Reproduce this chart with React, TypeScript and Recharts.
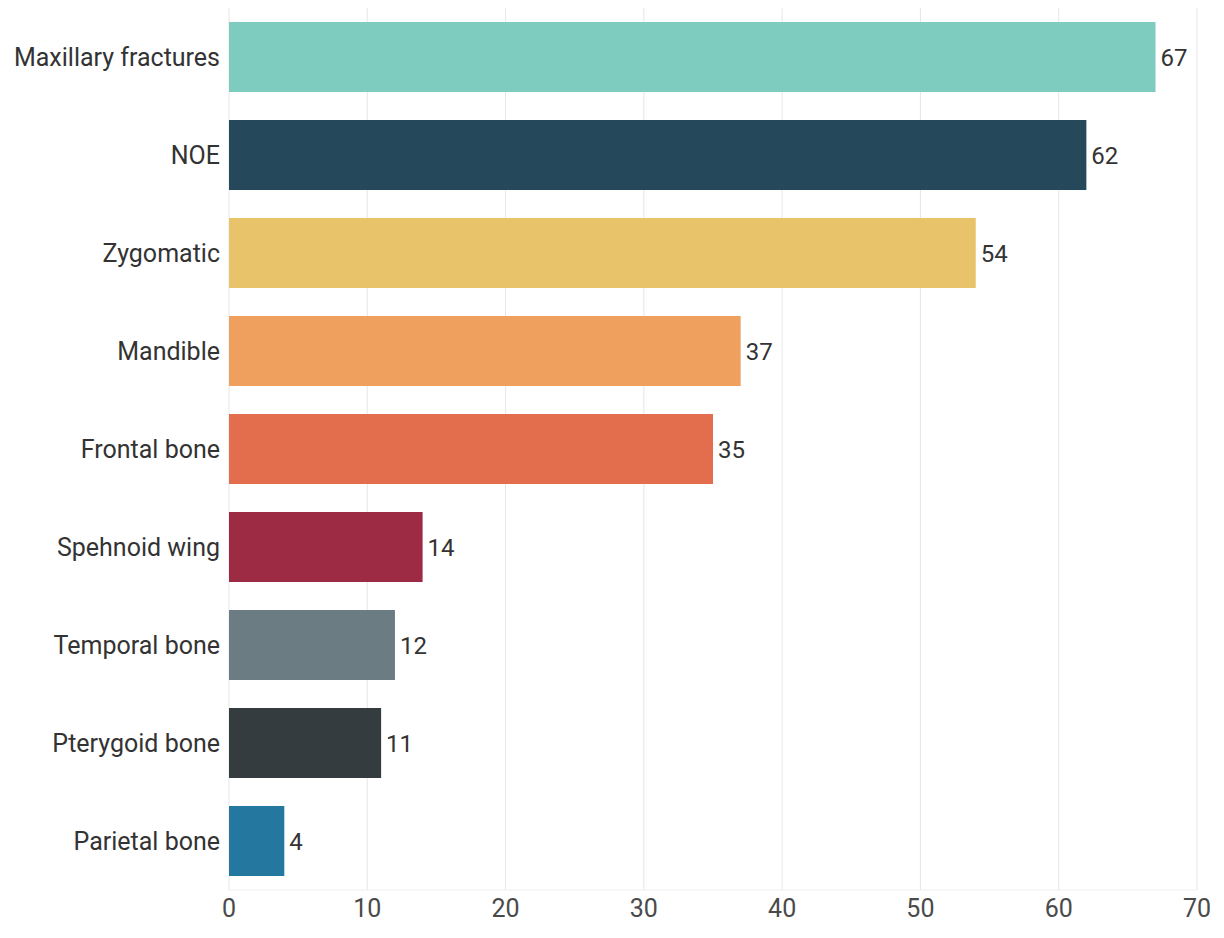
import React from 'react';
import { BarChart, Bar, XAxis, YAxis, CartesianGrid, Cell, LabelList } from 'recharts';

const categories = [
  'Maxillary fractures',
  'NOE',
  'Zygomatic',
  'Mandible',
  'Frontal bone',
  'Spehnoid wing',
  'Temporal bone',
  'Pterygoid bone',
  'Parietal bone',
];
const counts = [67, 62, 54, 37, 35, 14, 12, 11, 4];
const barColors = [
  '#7ecbc0',
  '#25485a',
  '#e8c36a',
  '#ef9f5e',
  '#e36e4e',
  '#9d2b43',
  '#6b7c83',
  '#353c40',
  '#2478a0',
];
const xTicks = [0, 10, 20, 30, 40, 50, 60, 70];

const data = categories.map((name, i) => ({ name, count: counts[i] }));

const font = 'Roboto, "Noto Sans", sans-serif';

export default function App() {
  return (
    <div style={{ position: 'absolute', left: 0, top: 0, background: '#fff' }}>
      <BarChart
        width={1224}
        height={938}
        data={data}
        layout="vertical"
        margin={{ top: 8, right: 27, left: 0, bottom: 0 }}
        barSize={70}
      >
        <CartesianGrid horizontal={false} stroke="#e6e6e6" />
        <XAxis
          type="number"
          domain={[0, 70]}
          ticks={xTicks}
          height={48}
          tickSize={0}
          tickMargin={9}
          axisLine={{ stroke: '#f0f0f0' }}
          tick={{ fill: '#4a4a4a', fontSize: 25, fontFamily: font }}
        />
        <YAxis
          type="category"
          dataKey="name"
          width={229}
          axisLine={false}
          tickLine={false}
          tickSize={0}
          tickMargin={9}
          tick={{ fill: '#333', fontSize: 25, fontFamily: font }}
        />
        <Bar dataKey="count" isAnimationActive={false}>
          {data.map((entry, index) => (
            <Cell key={`cell-${index}`} fill={barColors[index]} />
          ))}
          <LabelList
            dataKey="count"
            position="right"
            offset={5}
            style={{ fill: '#333', fontSize: 24, fontFamily: font }}
          />
        </Bar>
      </BarChart>
    </div>
  );
}
